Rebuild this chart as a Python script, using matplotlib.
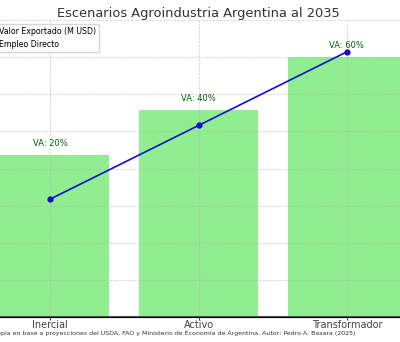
import matplotlib
matplotlib.use('Agg')
import matplotlib.pyplot as plt

escenarios = ['Inercial', 'Activo', 'Transformador']
valor_exportado = [43700, 55800, 70000]   # M USD
empleo_directo = [400, 650, 900]          # miles
valor_agregado = ['VA: 20%', 'VA: 40%', 'VA: 60%']

fig = plt.figure(figsize=(4.0, 3.42), dpi=100)
ax = fig.add_axes([-0.075, 0.0731, 1.1425, 0.8684])

x = range(len(escenarios))
ax.bar(x, valor_exportado, width=0.8, color='lightgreen', label='Valor Exportado (M USD)')
ax.set_xlim(-0.54, 2.54)
ax.set_ylim(0, 80000)
ax.set_yticks(range(0, 80001, 10000))
ax.set_xticks(list(x))
ax.set_xticklabels(escenarios, fontsize=7, color='#222222')
ax.tick_params(axis='x', length=2, pad=0.5, colors='#444444')
ax.tick_params(axis='y', left=False, labelleft=False)
ax.grid(True, linestyle=(0, (2, 1.2)), linewidth=0.8, color='#b8b8b8', alpha=0.55)
ax.spines['top'].set_visible(False)
ax.spines['bottom'].set_color('#555555')
ax.spines['bottom'].set_linewidth(1.5)

for i, v in enumerate(valor_exportado):
    ax.annotate(valor_agregado[i], (i, v), xytext=(0, 5), textcoords='offset points',
                ha='center', va='bottom', fontsize=6, color='darkgreen')

ax2 = ax.twinx()
ax2.plot(list(x), empleo_directo, color='#1010cc', marker='o', markersize=3.5, linewidth=1.2, label='Empleo Directo')
ax2.set_ylim(0, 1008)
ax2.tick_params(axis='y', right=False, labelright=False)
ax2.spines['top'].set_visible(False)

h1, l1 = ax.get_legend_handles_labels()
h2, l2 = ax2.get_legend_handles_labels()
ax2.legend(h1 + h2, l1 + l2, loc='upper left', fontsize=5.7)

ax.set_title('Escenarios Agroindustria Argentina al 2035', fontsize=9.4, pad=2.5, color='#333333')

fig.text(0.8875, 0.026, 'Fuente: Elaboración propia en base a proyecciones del USDA, FAO y Ministerio de Economía de Argentina. Autor: Pedro A. Basara (2025)',
         ha='right', va='center', fontsize=4.5, color='#333333')

fig.savefig('out.png', dpi=100)
